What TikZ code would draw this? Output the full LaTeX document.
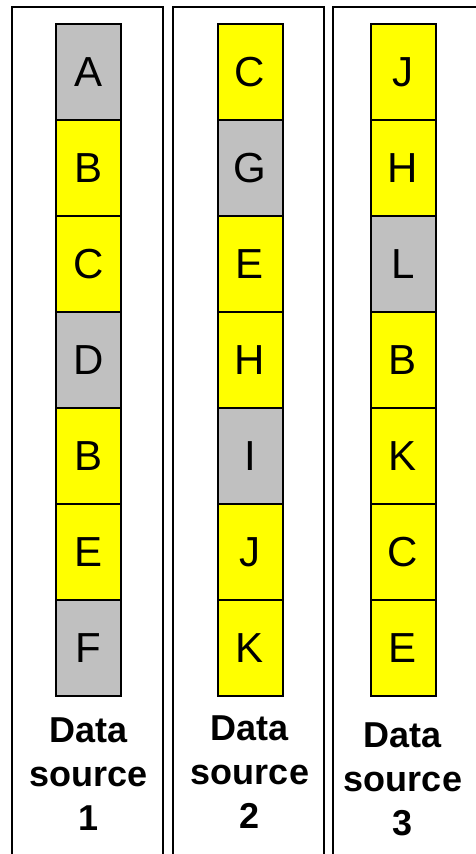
\documentclass[tikz,border=0pt]{standalone}
\usepackage{fontspec}
\setmainfont{Liberation Sans}
\usepackage{xcolor}
\definecolor{cellgray}{RGB}{192,192,192}
\definecolor{cellyellow}{RGB}{255,255,0}

\tikzset{
  cell/.style={draw=black,line width=2pt,minimum width=65pt,minimum height=96pt,
    inner sep=0pt,font=\fontsize{42}{42}\selectfont},
  srclabel/.style={align=center,inner sep=0pt,anchor=base,
    font=\fontsize{36}{44}\selectfont\bfseries},
  panel/.style={draw=black,line width=2pt}
}

\begin{document}
\begin{tikzpicture}[x=1pt,y=-1pt]
  % Rahmen
  \useasboundingbox (0,0) rectangle (476,854);
  \fill[white] (0,0) rectangle (476,854);

  % Spalten
  \draw[panel] (12,870) -- (12,7) -- (163,7) -- (163,870);
  \draw[panel] (173,870) -- (173,7) -- (324,7) -- (324,870);
  \draw[panel] (333,870) -- (333,7) -- (490,7);

  % Datenquelle 1
  \foreach \lab/\col [count=\i] in {A/cellgray,B/cellyellow,C/cellyellow,D/cellgray,B/cellyellow,E/cellyellow,F/cellgray}
    \node[cell,fill=\col] (a\i) at (88.5,{72+(\i-1)*96}) {\lab};

  % Datenquelle 2
  \foreach \lab/\col [count=\i] in {C/cellyellow,G/cellgray,E/cellyellow,H/cellyellow,I/cellgray,J/cellyellow,K/cellyellow}
    \node[cell,fill=\col] (b\i) at (250,{72+(\i-1)*96}) {\lab};

  % Datenquelle 3
  \foreach \lab/\col [count=\i] in {J/cellyellow,H/cellyellow,L/cellgray,B/cellyellow,K/cellyellow,C/cellyellow,E/cellyellow}
    \node[cell,fill=\col] (c\i) at (403,{72+(\i-1)*96}) {\lab};

  % Beschriftung
  \node[srclabel] (la) at (88.5,830) {Data\\source\\1};
  \node[srclabel] (lb) at (250,828) {Data\\source\\2};
  \node[srclabel] (lc) at (403,835) {Data\\source\\3};
\end{tikzpicture}
\end{document}
